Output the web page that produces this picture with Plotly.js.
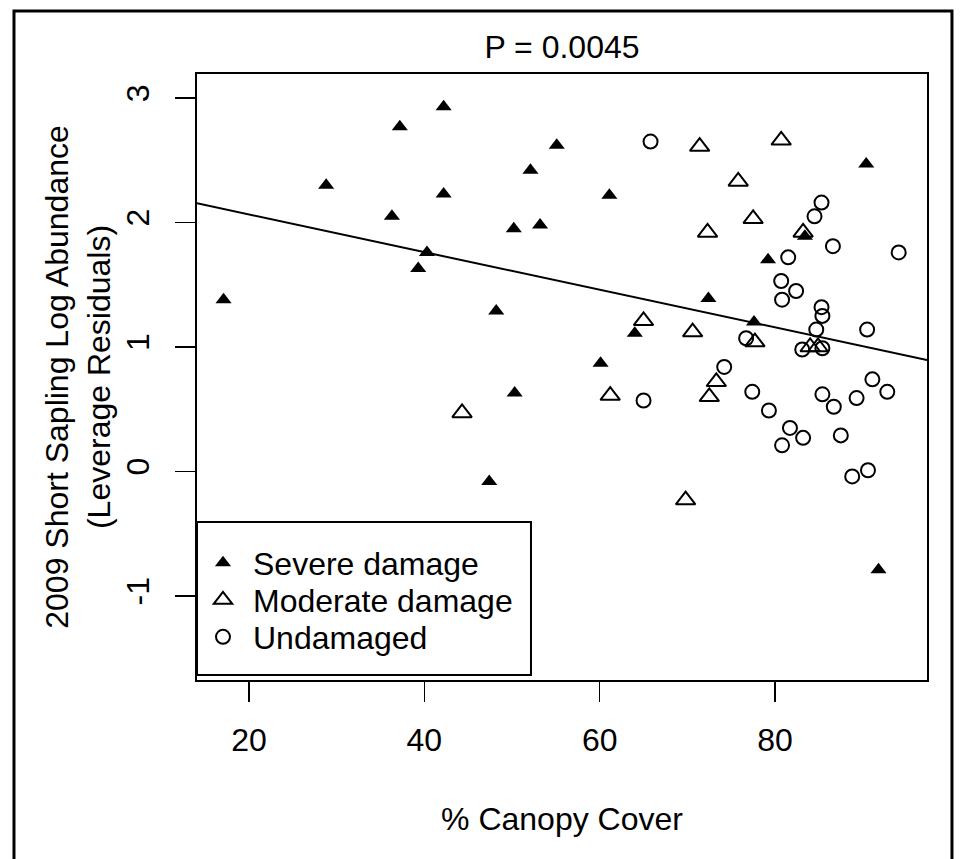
<!DOCTYPE html>
<html>
<head>
<meta charset="utf-8">
<script src="https://cdn.plot.ly/plotly-3.0.1.min.js"></script>
<style>
  html, body { margin: 0; padding: 0; background: #fff; }
  #chart { width: 963px; height: 859px; }
</style>
</head>
<body>
<div id="chart"></div>
<script>
// Severe damage (filled triangles)
const severeX = [17.1, 28.8, 36.3, 37.2, 39.3, 40.3, 42.2, 42.2, 47.4, 48.2, 50.2, 50.3, 52.1, 53.2, 55.1, 60.1, 61.1, 64.0, 72.4, 77.6, 79.2, 83.4, 90.4, 91.8];
const severeY = [1.38, 2.30, 2.05, 2.77, 1.63, 1.76, 2.93, 2.23, -0.08, 1.29, 1.95, 0.63, 2.42, 1.98, 2.62, 0.87, 2.22, 1.11, 1.39, 1.20, 1.70, 1.89, 2.47, -0.79];

// Moderate damage (open triangles)
const moderateX = [44.3, 61.2, 65.0, 69.8, 70.6, 71.4, 72.3, 72.5, 73.3, 75.8, 77.5, 77.7, 80.7, 83.2, 84.0, 84.9];
const moderateY = [0.47, 0.61, 1.21, -0.23, 1.12, 2.61, 1.92, 0.60, 0.72, 2.33, 2.03, 1.04, 2.66, 1.92, 1.00, 1.00];

// Undamaged (open circles)
const undamagedX = [65.0, 65.8, 74.2, 76.7, 77.4, 79.3, 80.7, 80.8, 80.8, 81.5, 81.7, 82.4, 83.1, 83.2, 84.5, 84.7, 85.3, 85.3, 85.4, 85.4, 85.4, 86.6, 86.7, 87.5, 88.8, 89.3, 90.5, 90.6, 91.1, 92.8, 94.1];
const undamagedY = [0.57, 2.65, 0.84, 1.07, 0.64, 0.49, 1.53, 1.38, 0.21, 1.72, 0.35, 1.45, 0.98, 0.27, 2.05, 1.14, 2.16, 1.32, 1.25, 0.99, 0.62, 1.81, 0.52, 0.29, -0.04, 0.59, 1.14, 0.01, 0.74, 0.64, 1.76];

// Fitted regression line (endpoints at the axis limits)
const fitX = [14.07, 97.33];
const fitY = [2.154, 0.896];

const xTicks = [20, 40, 60, 80];
const yTicks = [-1, 0, 1, 2, 3];
const seriesNames = ["Severe damage", "Moderate damage", "Undamaged"];

const FONT = "Liberation Sans, Arial, Helvetica, sans-serif";
const FS = 32;

const traces = [
  {
    x: fitX, y: fitY, mode: "lines", type: "scatter",
    line: { color: "#000", width: 2 }, showlegend: false, hoverinfo: "skip"
  },
  {
    x: severeX, y: severeY, mode: "markers", type: "scatter", name: seriesNames[0], legend: "legend",
    marker: { symbol: "triangle-up", size: 14, color: "#000", line: { width: 0 } }
  },
  {
    x: moderateX, y: moderateY, mode: "markers", type: "scatter", name: seriesNames[1], legend: "legend2",
    marker: { symbol: "triangle-up-open", size: 17, color: "#000", line: { width: 2, color: "#000" } }
  },
  {
    x: undamagedX, y: undamagedY, mode: "markers", type: "scatter", name: seriesNames[2], legend: "legend3",
    marker: { symbol: "circle-open", size: 14, color: "#000", line: { width: 2, color: "#000" } }
  }
];

function legendRow(yPaper) {
  return {
    x: -0.0055, xanchor: "left", y: yPaper, yanchor: "middle",
    bgcolor: "rgba(0,0,0,0)", borderwidth: 0,
    font: { family: FONT, size: FS, color: "#000" },
    itemwidth: 50
  };
}

const layout = {
  width: 963, height: 859,
  paper_bgcolor: "#fff", plot_bgcolor: "#fff",
  font: { family: FONT, color: "#000", size: FS },
  margin: { l: 197, r: 36, t: 74, b: 179, pad: 0 },
  title: {
    text: "P = 0.0045", font: { family: FONT, size: FS, color: "#000" },
    x: 0.5, xref: "paper", xanchor: "center",
    y: 1 - 47 / 859, yref: "container", yanchor: "middle"
  },
  xaxis: {
    range: [14.07, 97.33], tickvals: xTicks, ticktext: xTicks.map(String),
    ticks: "outside", ticklen: 20, tickwidth: 1.5, tickcolor: "#000",
    showline: true, linecolor: "#000", linewidth: 2, mirror: true,
    showgrid: false, zeroline: false, ticklabelstandoff: 11,
    tickfont: { family: FONT, size: FS, color: "#000" },
    title: { text: "% Canopy Cover", font: { family: FONT, size: FS, color: "#000" }, standoff: 50 }
  },
  yaxis: {
    range: [-1.675, 3.193], tickvals: yTicks, ticktext: yTicks.map(String),
    ticks: "outside", ticklen: 20, tickwidth: 1.5, tickcolor: "#000", tickangle: -90,
    showline: true, linecolor: "#000", linewidth: 2, mirror: true,
    showgrid: false, zeroline: false, ticklabelstandoff: 13,
    tickfont: { family: FONT, size: FS, color: "#000" },
    title: { text: "2009 Short Sapling Log Abundance<br>(Leverage Residuals)", font: { family: FONT, size: FS, color: "#000" }, standoff: 0 }
  },
  showlegend: true,
  legend: legendRow((680 - 563) / 606),
  legend2: legendRow((680 - 600) / 606),
  legend3: legendRow((680 - 637) / 606),
  shapes: [
    // legend box
    { type: "rect", xref: "paper", yref: "paper", x0: 0, x1: 0.4575, y0: 0.00825, y1: 0.2607,
      line: { color: "#000", width: 2 }, fillcolor: "rgba(0,0,0,0)", layer: "above" },
    // outer figure frame
    { type: "rect", xref: "paper", yref: "paper", x0: -0.2507, x1: 1.0342, y0: -0.32, y1: 1.104,
      line: { color: "#000", width: 3 }, fillcolor: "rgba(0,0,0,0)", layer: "above" }
  ]
};

Plotly.newPlot("chart", traces, layout, { displayModeBar: false, staticPlot: true });
</script>
</body>
</html>
